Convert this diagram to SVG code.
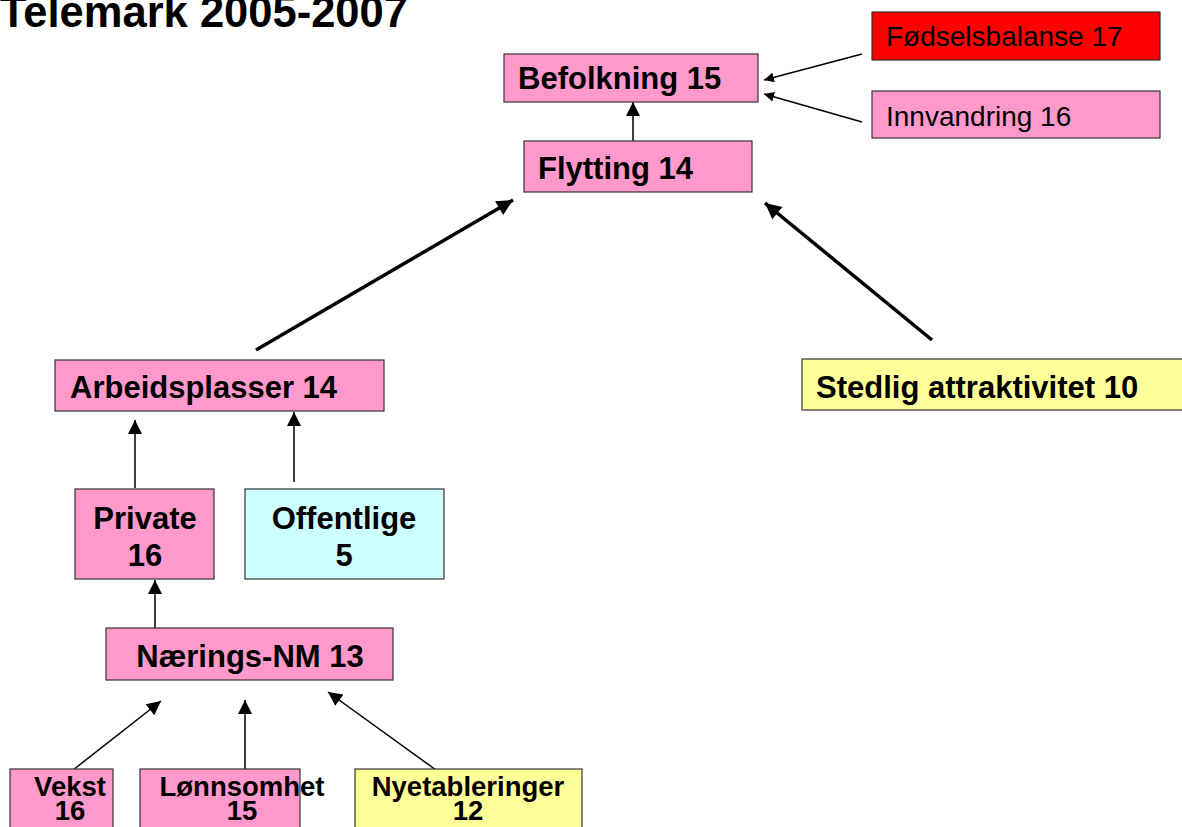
<svg xmlns="http://www.w3.org/2000/svg" width="1182" height="827" viewBox="0 0 1182 827">
<style>
.box{stroke:#333;stroke-width:1.2}
.pink{fill:#ff99cc}
.red{fill:#ff0000}
.yellow{fill:#ffff99}
.cyan{fill:#ccffff}
text{font-family:"Liberation Sans",Arial,sans-serif;fill:#000}
.b{font-weight:bold;font-size:31px}
.n{font-size:28px}
.s{font-weight:bold;font-size:27.5px}
.ln{stroke:#000;fill:none;stroke-width:1.5}
.thick{stroke:#000;fill:none;stroke-width:3.5}
</style>
<defs>
<marker id="ah" viewBox="0 0 10 10" refX="10" refY="5" markerWidth="10" markerHeight="10" markerUnits="userSpaceOnUse" orient="auto"><path d="M0,0 L10,5 L0,10 z" fill="#000"/></marker>
<marker id="ahb" viewBox="0 0 10 10" refX="10" refY="5" markerWidth="16" markerHeight="14" markerUnits="userSpaceOnUse" orient="auto"><path d="M0,0 L10,5 L0,10 z" fill="#000"/></marker>
<marker id="aht" viewBox="0 0 10 10" refX="10" refY="5" markerWidth="18" markerHeight="16" markerUnits="userSpaceOnUse" orient="auto"><path d="M0,0 L10,5 L0,10 z" fill="#000"/></marker>
</defs>
<text x="0" y="27" style="font-weight:bold;font-size:43.5px">Telemark 2005-2007</text>
<g id="connectors">
<line class="ln" x1="862" y1="54" x2="764" y2="80" marker-end="url(#ah)"/>
<line class="ln" x1="862" y1="122" x2="764" y2="94" marker-end="url(#ah)"/>
<line class="ln" x1="633" y1="141" x2="633" y2="102" marker-end="url(#ahb)"/>
<line class="thick" x1="256" y1="350" x2="513" y2="200" marker-end="url(#aht)"/>
<line class="thick" x1="932" y1="340" x2="765" y2="203" marker-end="url(#aht)"/>
<line class="ln" x1="135" y1="488" x2="135" y2="420" marker-end="url(#ahb)"/>
<line class="ln" x1="294" y1="482" x2="294" y2="412" marker-end="url(#ahb)"/>
<line class="ln" x1="155" y1="628" x2="155" y2="580" marker-end="url(#ahb)"/>
<line class="ln" x1="73" y1="770" x2="161" y2="701" marker-end="url(#ahb)"/>
<line class="ln" x1="245" y1="770" x2="245" y2="700" marker-end="url(#ahb)"/>
<line class="ln" x1="436" y1="770" x2="328" y2="692" marker-end="url(#ahb)"/>
</g>
<g id="befolkning"><rect class="box pink" x="504" y="54" width="254" height="48"/><text class="b" x="518" y="89">Befolkning 15</text></g>
<g id="fodselsbalanse"><rect class="box red" x="872" y="12" width="288" height="48"/><text class="n" x="886" y="46">Fødselsbalanse 17</text></g>
<g id="innvandring"><rect class="box pink" x="872" y="91" width="288" height="47"/><text class="n" x="886" y="126">Innvandring 16</text></g>
<g id="flytting"><rect class="box pink" x="524" y="141" width="228" height="51"/><text class="b" x="538" y="179">Flytting 14</text></g>
<g id="arbeidsplasser"><rect class="box pink" x="55" y="360" width="329" height="51"/><text class="b" x="70" y="398">Arbeidsplasser 14</text></g>
<g id="stedlig"><rect class="box yellow" x="802" y="359" width="382" height="51"/><text class="b" x="816" y="398">Stedlig attraktivitet 10</text></g>
<g id="private"><rect class="box pink" x="75" y="489" width="139" height="90"/><text class="b" x="145" y="529" text-anchor="middle">Private</text><text class="b" x="145" y="566" text-anchor="middle">16</text></g>
<g id="offentlige"><rect class="box cyan" x="245" y="489" width="199" height="90"/><text class="b" x="344" y="529" text-anchor="middle">Offentlige</text><text class="b" x="344" y="566" text-anchor="middle">5</text></g>
<g id="naerings"><rect class="box pink" x="106" y="628" width="287" height="52"/><text class="b" x="250" y="667" text-anchor="middle">Nærings-NM 13</text></g>
<g id="vekst"><rect class="box pink" x="10" y="769" width="103" height="62"/><text class="s" x="70" y="796" text-anchor="middle">Vekst</text><text class="s" x="70" y="820" text-anchor="middle">16</text></g>
<g id="lonnsomhet"><rect class="box pink" x="140" y="769" width="160" height="62"/><text class="s" x="242" y="796" text-anchor="middle">Lønnsomhet</text><text class="s" x="242" y="820" text-anchor="middle">15</text></g>
<g id="nyetableringer"><rect class="box yellow" x="355" y="769" width="227" height="62"/><text class="s" x="468" y="796" text-anchor="middle">Nyetableringer</text><text class="s" x="468" y="820" text-anchor="middle">12</text></g>
</svg>
